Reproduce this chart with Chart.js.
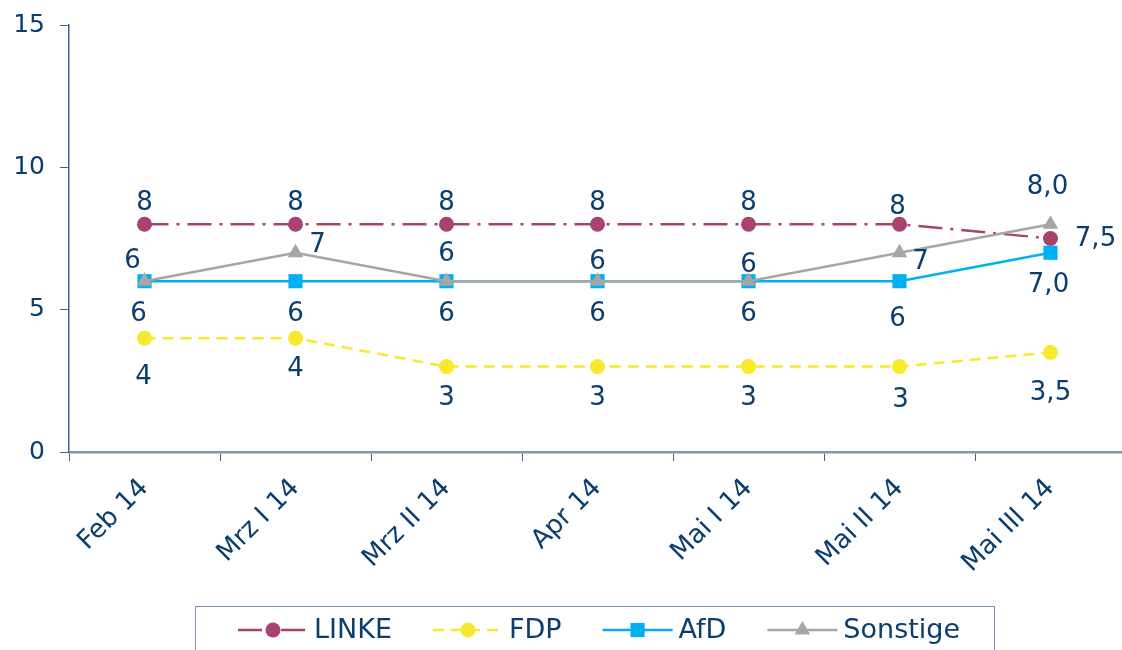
<!DOCTYPE html>
<html>
<head>
<meta charset="utf-8">
<script src="https://cdn.jsdelivr.net/npm/chart.js@4.4.1/dist/chart.umd.min.js"></script>
<style>
  html, body { margin: 0; padding: 0; background: #fff; overflow: hidden; }
  canvas { display: block; }
</style>
</head>
<body>
<canvas id="pollChart" width="1136" height="650"></canvas>
<script>
// categories and values
const categories = ['Feb 14', 'Mrz I 14', 'Mrz II 14', 'Apr 14', 'Mai I 14', 'Mai II 14', 'Mai III 14'];
const linke    = [8, 8, 8, 8, 8, 8, 7.5];
const fdp      = [4, 4, 3, 3, 3, 3, 3.5];
const afd      = [6, 6, 6, 6, 6, 6, 7];
const sonstige = [6, 7, 6, 6, 6, 7, 8];
const yTicks   = [0, 5, 10, 15];
const labelDecimals = [0, 0, 0, 0, 0, 0, 1];

const TEXT = '#0b3d6f';
const FONT = '"DejaVu Sans", Verdana, sans-serif';

// where each value label sits relative to its point (dx, dy of the text centre)
const labelOffsets = {
  LINKE:    [[0,-21],[0,-21],[0,-21],[0,-21],[0,-21],[-2,-17],[45,1]],
  FDP:      [[-1,39],[0,31],[0,32],[0,32],[0,32],[1,34],[0,41]],
  AfD:      [[-6,33],[0,33],[0,33],[0,33],[0,33],[-2,38],[-2,33]],
  Sonstige: [[-12,-20],[22,-7],[0,-27],[0,-19],[0,-16],[21,10],[-3,-37]]
};

function fmt(v, dec) {
  return v.toFixed(dec).replace('.', ',');
}

const valueLabels = {
  id: 'valueLabels',
  afterDatasetsDraw(chart) {
    const ctx = chart.ctx;
    ctx.save();
    ctx.font = '26px ' + FONT;
    ctx.fillStyle = TEXT;
    ctx.textAlign = 'center';
    ctx.textBaseline = 'middle';
    chart.data.datasets.forEach((ds, i) => {
      const meta = chart.getDatasetMeta(i);
      const offs = labelOffsets[ds.label];
      meta.data.forEach((pt, j) => {
        const o = offs[j];
        ctx.fillText(fmt(ds.data[j], labelDecimals[j]), pt.x + o[0], pt.y + o[1]);
      });
    });
    ctx.restore();
  }
};

function drawMarker(ctx, ds, x, y) {
  Chart.helpers.drawPoint(ctx, {
    pointStyle: ds.pointStyle,
    radius: ds.pointRadius,
    borderWidth: 0
  }, x, y);
}

const boxLegend = {
  id: 'boxLegend',
  afterDraw(chart) {
    const ctx = chart.ctx;
    ctx.save();
    ctx.strokeStyle = '#7a94b0';
    ctx.lineWidth = 1;
    ctx.strokeRect(195.5, 606.5, 799, 60);
    ctx.font = '27px ' + FONT;
    ctx.textBaseline = 'middle';
    ctx.textAlign = 'left';
    const cy = 630;
    let x = 238;
    chart.data.datasets.forEach(ds => {
      ctx.strokeStyle = ds.borderColor;
      ctx.fillStyle = ds.backgroundColor;
      ctx.lineWidth = ds.borderWidth;
      ctx.setLineDash(ds.borderDash || []);
      ctx.beginPath();
      ctx.moveTo(x, cy);
      ctx.lineTo(x + 70, cy);
      ctx.stroke();
      ctx.setLineDash([]);
      drawMarker(ctx, ds, x + 35, cy);
      ctx.fillStyle = TEXT;
      ctx.fillText(ds.label, x + 76, cy + 1);
      x += 76 + ctx.measureText(ds.label).width + 41;
    });
    ctx.restore();
  }
};

new Chart(document.getElementById('pollChart'), {
  type: 'line',
  data: {
    labels: categories,
    datasets: [
      {
        label: 'LINKE', data: linke, order: 4,
        borderColor: '#a8426e', backgroundColor: '#a8426e',
        borderWidth: 2.5, borderDash: [24, 8, 3, 8],
        pointStyle: 'circle', pointRadius: 7.5, pointBorderWidth: 0
      },
      {
        label: 'FDP', data: fdp, order: 3,
        borderColor: '#f8e92e', backgroundColor: '#f8e92e',
        borderWidth: 2.5, borderDash: [11, 7],
        pointStyle: 'circle', pointRadius: 7.5, pointBorderWidth: 0
      },
      {
        label: 'AfD', data: afd, order: 2,
        borderColor: '#00b0f0', backgroundColor: '#00b0f0',
        borderWidth: 2.5,
        pointStyle: 'rect', pointRadius: 10, pointBorderWidth: 0
      },
      {
        label: 'Sonstige', data: sonstige, order: 1,
        borderColor: '#a6a6a6', backgroundColor: '#a6a6a6',
        borderWidth: 2.5,
        pointStyle: 'triangle', pointRadius: 9, pointBorderWidth: 0
      }
    ]
  },
  options: {
    responsive: false,
    animation: false,
    layout: { padding: { top: 25, left: 0, right: 0, bottom: 0 } },
    plugins: {
      legend: { display: false },
      tooltip: { enabled: false }
    },
    elements: { line: { tension: 0 } },
    scales: {
      x: {
        offset: true,
        grid: { offset: true, drawOnChartArea: false, drawTicks: true, tickLength: 9, color: '#3d6590' },
        border: { color: '#8098b4', width: 2.5 },
        ticks: { color: TEXT, font: { family: FONT, size: 26 }, minRotation: 45, maxRotation: 45, padding: 12 },
        afterFit(scale) { scale.height = 198; }
      },
      y: {
        min: 0, max: 15,
        afterBuildTicks(scale) { scale.ticks = yTicks.map(v => ({ value: v })); },
        grid: { drawOnChartArea: false, drawTicks: true, tickLength: 9, color: '#3d6590' },
        border: { color: '#3d6590', width: 1.5 },
        ticks: { color: TEXT, font: { family: FONT, size: 25 }, padding: 15 },
        afterFit(scale) {
          scale.width = 69;
          scale.paddingTop = 0;
          scale.paddingBottom = 0;
        }
      }
    }
  },
  plugins: [valueLabels, boxLegend]
});
</script>
</body>
</html>
